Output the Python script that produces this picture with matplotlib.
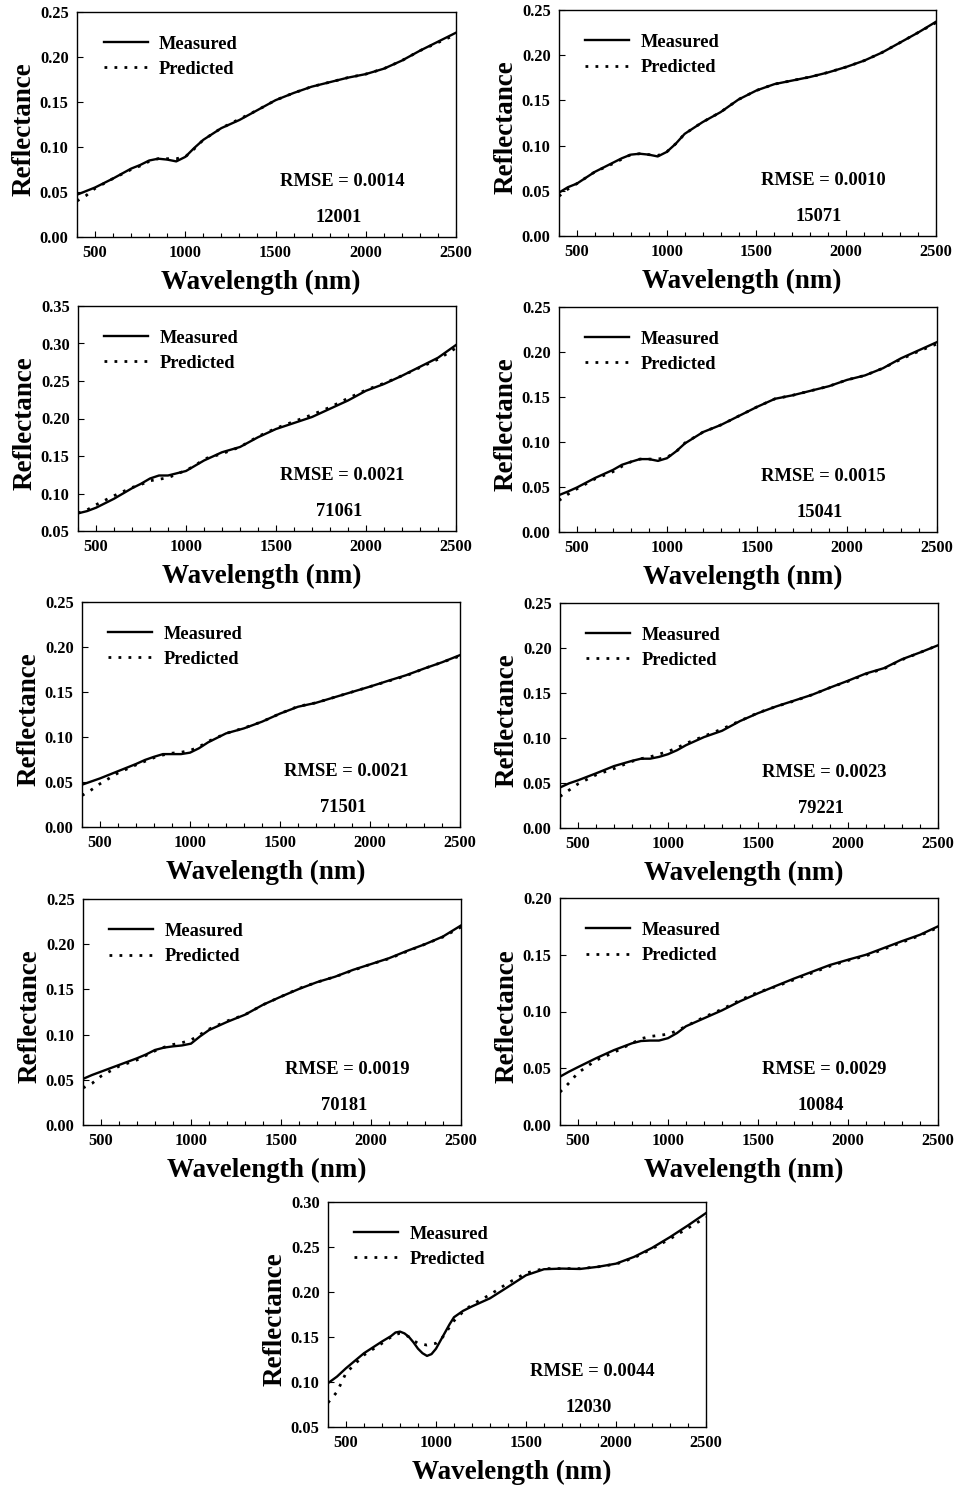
import matplotlib
matplotlib.use("Agg")
import matplotlib.pyplot as plt
from matplotlib.ticker import MultipleLocator

plt.rcParams['font.family'] = ['Liberation Serif', 'DejaVu Serif']
plt.rcParams['font.weight'] = 'bold'
plt.rcParams['axes.labelweight'] = 'bold'

# wavelength grid (nm)
wl = [400, 450, 500, 600, 700, 750, 800, 850, 900, 950, 1000, 1050, 1100, 1200, 1300,
      1400, 1500, 1600, 1700, 1800, 1900, 2000, 2100, 2200, 2300, 2400, 2500]
# sample 12030 has a deep band near 950 nm, so it was read more finely
wl_12030 = [400, 450, 500, 600, 700, 750, 775, 800, 825, 850, 875, 900, 925, 950, 975, 1000, 1025,
            1050, 1075, 1100, 1150, 1200, 1300, 1400, 1500, 1600, 1700, 1800, 1900, 2000, 2100,
            2200, 2300, 2400, 2500]

sample_ids = ['12001', '15071', '71061', '15041', '71501', '79221', '70181', '10084', '12030']
rmse = ['0.0014', '0.0010', '0.0021', '0.0015', '0.0021', '0.0023', '0.0019', '0.0029', '0.0044']

meas_12001 = [0.047, 0.051, 0.055, 0.065, 0.076, 0.080, 0.085, 0.087, 0.086, 0.084, 0.089, 0.099, 0.108, 0.121,
              0.130, 0.141, 0.152, 0.160, 0.167, 0.172, 0.177, 0.181, 0.187, 0.196, 0.207, 0.217, 0.227]
pred_12001 = [0.040, 0.046, 0.054, 0.065, 0.075, 0.079, 0.084, 0.087, 0.087, 0.087, 0.089, 0.098, 0.108, 0.121,
              0.131, 0.141, 0.152, 0.160, 0.167, 0.172, 0.177, 0.181, 0.187, 0.196, 0.207, 0.216, 0.225]

meas_15071 = [0.048, 0.054, 0.058, 0.071, 0.081, 0.086, 0.090, 0.091, 0.090, 0.088, 0.093, 0.102, 0.113, 0.126,
              0.137, 0.151, 0.161, 0.168, 0.172, 0.176, 0.181, 0.187, 0.194, 0.203, 0.214, 0.225, 0.237]
pred_15071 = [0.044, 0.052, 0.058, 0.071, 0.080, 0.085, 0.090, 0.091, 0.090, 0.089, 0.093, 0.102, 0.113, 0.126,
              0.137, 0.151, 0.161, 0.168, 0.172, 0.176, 0.181, 0.187, 0.194, 0.203, 0.214, 0.225, 0.236]

meas_71061 = [0.0735, 0.0765, 0.081, 0.093, 0.107, 0.113, 0.120, 0.124, 0.124, 0.127, 0.130, 0.137, 0.144, 0.155,
              0.162, 0.175, 0.186, 0.194, 0.202, 0.213, 0.224, 0.237, 0.246, 0.257, 0.269, 0.281, 0.298]
pred_71061 = [0.074, 0.078, 0.085, 0.097, 0.108, 0.112, 0.117, 0.119, 0.121, 0.126, 0.131, 0.137, 0.146, 0.153,
              0.162, 0.176, 0.187, 0.196, 0.205, 0.215, 0.227, 0.238, 0.247, 0.257, 0.268, 0.279, 0.294]

meas_15041 = [0.041, 0.045, 0.0495, 0.060, 0.069, 0.0747, 0.078, 0.081, 0.081, 0.079, 0.082, 0.0895, 0.0985, 0.111,
              0.119, 0.129, 0.139, 0.148, 0.152, 0.157, 0.162, 0.169, 0.174, 0.182, 0.193, 0.202, 0.211]
pred_15041 = [0.035, 0.042, 0.048, 0.059, 0.067, 0.073, 0.078, 0.081, 0.081, 0.081, 0.083, 0.089, 0.099, 0.111,
              0.119, 0.129, 0.139, 0.148, 0.152, 0.157, 0.162, 0.169, 0.174, 0.182, 0.192, 0.201, 0.209]

meas_71501 = [0.047, 0.0505, 0.054, 0.062, 0.070, 0.0745, 0.078, 0.081, 0.081, 0.081, 0.0826, 0.0875, 0.094, 0.104,
              0.1096, 0.117, 0.126, 0.1336, 0.138, 0.144, 0.150, 0.156, 0.1624, 0.1686, 0.176, 0.183, 0.191]
pred_71501 = [0.035, 0.041, 0.048, 0.060, 0.069, 0.073, 0.077, 0.080, 0.082, 0.083, 0.085, 0.089, 0.095, 0.104,
              0.110, 0.117, 0.126, 0.134, 0.138, 0.144, 0.150, 0.156, 0.162, 0.168, 0.176, 0.183, 0.190]

meas_79221 = [0.045, 0.0496, 0.053, 0.0607, 0.0688, 0.0717, 0.0746, 0.077, 0.077, 0.079, 0.082, 0.0864, 0.092, 0.101,
              0.108, 0.1188, 0.1276, 0.135, 0.1415, 0.148, 0.156, 0.1636, 0.1717, 0.1776, 0.1875, 0.195, 0.203]
pred_79221 = [0.035, 0.042, 0.049, 0.059, 0.066, 0.070, 0.074, 0.077, 0.079, 0.082, 0.085, 0.089, 0.094, 0.102,
              0.110, 0.119, 0.128, 0.135, 0.141, 0.148, 0.156, 0.163, 0.171, 0.177, 0.187, 0.195, 0.203]

meas_70181 = [0.051, 0.0553, 0.059, 0.0664, 0.0738, 0.078, 0.083, 0.0856, 0.087, 0.088, 0.090, 0.098, 0.105, 0.114,
              0.122, 0.133, 0.142, 0.1505, 0.158, 0.164, 0.1716, 0.178, 0.1845, 0.1926, 0.200, 0.2085, 0.2207]
pred_70181 = [0.041, 0.046, 0.054, 0.065, 0.072, 0.077, 0.082, 0.086, 0.089, 0.091, 0.094, 0.100, 0.106, 0.115,
              0.122, 0.133, 0.142, 0.151, 0.158, 0.164, 0.171, 0.178, 0.184, 0.192, 0.200, 0.208, 0.219]

meas_10084 = [0.0426, 0.047, 0.051, 0.0588, 0.066, 0.069, 0.072, 0.074, 0.0744, 0.0744, 0.0765, 0.081, 0.087, 0.094,
              0.101, 0.109, 0.116, 0.1226, 0.129, 0.135, 0.141, 0.1456, 0.150, 0.156, 0.162, 0.1676, 0.175]
pred_10084 = [0.029, 0.037, 0.046, 0.057, 0.064, 0.068, 0.072, 0.076, 0.078, 0.079, 0.080, 0.083, 0.087, 0.095,
              0.102, 0.110, 0.117, 0.122, 0.128, 0.134, 0.140, 0.145, 0.149, 0.155, 0.161, 0.167, 0.174]

meas_12030 = [0.0987, 0.106, 0.1153, 0.132, 0.145, 0.151, 0.155, 0.156, 0.154, 0.150, 0.144, 0.137, 0.132, 0.129,
              0.131, 0.137, 0.146, 0.155, 0.164, 0.172, 0.179, 0.184, 0.193, 0.2057, 0.2186, 0.2253, 0.226,
              0.2256, 0.228, 0.2315, 0.239, 0.249, 0.261, 0.274, 0.2877]
pred_12030 = [0.077, 0.089, 0.110, 0.130, 0.143, 0.150, 0.153, 0.154, 0.153, 0.150, 0.146, 0.143, 0.142, 0.141,
              0.142, 0.143, 0.147, 0.153, 0.161, 0.168, 0.178, 0.186, 0.197, 0.210, 0.221, 0.226, 0.226,
              0.226, 0.228, 0.231, 0.238, 0.248, 0.259, 0.271, 0.283]

wavelengths = [wl, wl, wl, wl, wl, wl, wl, wl, wl_12030]
measured = [meas_12001, meas_15071, meas_71061, meas_15041, meas_71501, meas_79221, meas_70181, meas_10084, meas_12030]
predicted = [pred_12001, pred_15071, pred_71061, pred_15041, pred_71501, pred_79221, pred_70181, pred_10084, pred_12030]
y_limits = [(0, 0.25), (0, 0.25), (0.05, 0.35), (0, 0.25), (0, 0.25), (0, 0.25), (0, 0.25), (0, 0.20), (0.05, 0.30)]

W, H = 959, 1489
# axes boxes in pixels: left, top, right, bottom
boxes = [(77, 12, 456, 237), (559, 10, 936, 236),
         (78, 306, 456, 531), (559, 307, 937, 532),
         (82, 602, 460, 827), (560, 603, 938, 828),
         (83, 899, 461, 1125), (560, 898, 938, 1125),
         (328, 1202, 706, 1427)]

fig = plt.figure(figsize=(W / 100, H / 100), dpi=100)

for i in range(len(sample_ids)):
    l, t, r, b = boxes[i]
    ax = fig.add_axes([l / W, 1 - b / H, (r - l) / W, (b - t) / H])
    ax.plot(wavelengths[i], measured[i], color='black', lw=1.7, label='Measured')
    ax.plot(wavelengths[i], predicted[i], color='black', lw=2.0, linestyle=(0, (1, 2.6)), label='Predicted')

    ax.set_xlim(400, 2500)
    ax.set_ylim(*y_limits[i])
    ax.xaxis.set_major_locator(MultipleLocator(500))
    ax.xaxis.set_minor_locator(MultipleLocator(100))
    ax.yaxis.set_major_locator(MultipleLocator(0.05))
    ax.yaxis.set_major_formatter(matplotlib.ticker.FormatStrFormatter('%.2f'))
    ax.tick_params(which='both', direction='in', labelsize=11.8, width=0.8)
    ax.tick_params(which='major', length=4, pad=6)
    ax.tick_params(which='minor', length=3)
    for s in ax.spines.values():
        s.set_linewidth(1.0)

    ax.set_xlabel('Wavelength (nm)', fontsize=19.5)
    ax.set_ylabel('Reflectance', fontsize=19.5)
    ax.xaxis.set_label_coords(0.485, -0.145)
    ax.yaxis.set_label_coords(-0.108, 0.48)

    ax.legend(loc='upper left', bbox_to_anchor=(0.07, 0.895), frameon=False, fontsize=13.2,
              handlelength=2.4, handletextpad=0.6, labelspacing=0.45,
              borderpad=0, borderaxespad=0)
    ax.text(0.70, 0.245, 'RMSE = ' + rmse[i], transform=ax.transAxes,
            ha='center', va='center', fontsize=13.3)
    ax.text(0.69, 0.085, sample_ids[i], transform=ax.transAxes,
            ha='center', va='center', fontsize=13.3)

fig.savefig('out.png', dpi=100)
